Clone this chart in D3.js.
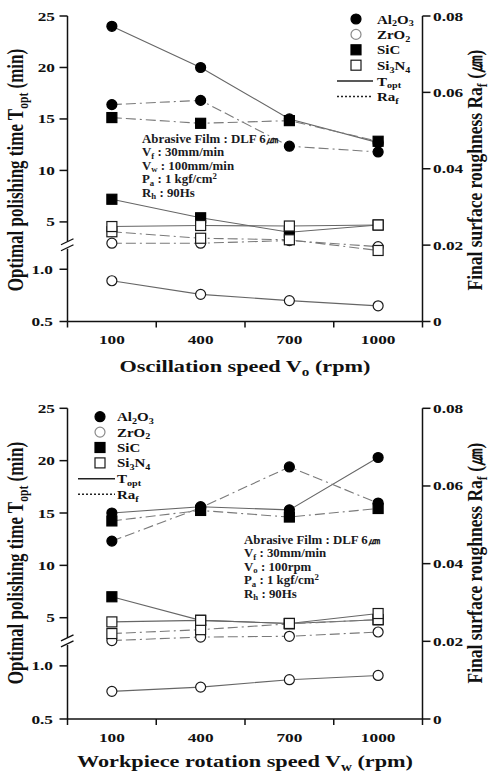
<!DOCTYPE html>
<html>
<head>
<meta charset="utf-8">
<script src="https://cdn.jsdelivr.net/npm/d3@7"></script>
<style>
  body { margin: 0; background: #fff; }
  svg { display: block; }
</style>
</head>
<body>
<div id="chart"></div>
<script>
// categories
const speeds = ["100", "400", "700", "1000"];

// Oscillation speed panel (T_opt in min, Ra_f in um)
const oscToptAl2O3 = [24.0, 20.0, 15.0, 12.7];
const oscToptZrO2 = [0.89, 0.76, 0.70, 0.65];
const oscToptSiC = [7.2, 5.4, 4.0, 4.7];
const oscToptSi3N4 = [4.55, 4.65, 4.6, 4.7];
const oscRaAl2O3 = [0.0568, 0.0579, 0.0459, 0.0444];
const oscRaZrO2 = [0.0205, 0.0205, 0.0212, 0.0196];
const oscRaSiC = [0.0534, 0.0519, 0.0526, 0.0472];
const oscRaSi3N4 = [0.0235, 0.0218, 0.0214, 0.0186];

// Workpiece rotation speed panel
const rotToptAl2O3 = [15.0, 15.6, 15.3, 20.3];
const rotToptZrO2 = [0.76, 0.80, 0.87, 0.91];
const rotToptSiC = [7.0, 4.75, 4.45, 4.8];
const rotToptSi3N4 = [4.6, 4.75, 4.45, 5.4];
const rotRaAl2O3 = [0.0458, 0.0544, 0.0649, 0.0556];
const rotRaZrO2 = [0.0202, 0.0211, 0.0213, 0.0224];
const rotRaSiC = [0.0510, 0.0537, 0.0520, 0.0542];
const rotRaSi3N4 = [0.0220, 0.0230, 0.0245, 0.0256];

// tick labels
const leftUpperTicks = [5, 10, 15, 20, 25];
const leftLowerTicks = [0.5, 1.0];
const rightTicks = [0, 0.02, 0.04, 0.06, 0.08];
const rightTickLabels = ["0", "0.02", "0.04", "0.06", "0.08"];

const FONT = "'Liberation Serif','Times New Roman',serif";
const W = 489, H = 774;
const leftX = 67.5, rightX = 422.5;

let svg = d3.select("#chart").append("svg")
    .attr("width", W)
    .attr("height", H);

// text with _{sub} and ^{sup} markup
function rich(t, str, size) {
    const re = /([_^])\{([^}]*)\}|([^_^]+)/g;
    let m, shift = 0;
    while ((m = re.exec(str))) {
        if (m[3]) {
            t.append("tspan").attr("dy", -shift).attr("font-size", size).text(m[3]);
            shift = 0;
        } else {
            let d = m[1] === "_" ? size * 0.22 : -size * 0.4;
            t.append("tspan").attr("dy", d - shift).attr("font-size", size * 0.68).text(m[2]);
            shift = d;
        }
    }
}

function addText(parent, x, y, str, size, opts) {
    opts = opts || {};
    let sx = opts.sx || 1.28;
    let g = parent.append("g")
        .attr("transform", opts.rotate
            ? "translate(" + x + "," + y + ") rotate(-90) scale(1," + sx + ")"
            : "translate(" + x + "," + y + ") scale(" + sx + ",1)");
    let t = g.append("text")
        .attr("text-anchor", opts.anchor || "start")
        .attr("y", opts.dy || 0)
        .attr("font-family", FONT)
        .attr("font-weight", "bold")
        .attr("fill", opts.fill || "#111");
    rich(t, str, size);
    return t;
}

function drawPanel(cfg) {
    let top = cfg.top, bottom = cfg.bottom, h = bottom - top;
    let g = svg.append("g");

    // scales: broken left axis, linear right axis, band x
    let yUpper = d3.scaleLinear().domain([5, 25]).range([top + 0.674 * h, top]);
    let yLower = d3.scaleLinear().domain([0.5, 1.0]).range([bottom, top + 0.829 * h]);
    let yLeft = function (v) { return v >= 2 ? yUpper(v) : yLower(v); };
    let yRight = d3.scaleLinear().domain([0, 0.08]).range([bottom, top]);
    let x = d3.scaleBand().domain(speeds).range([leftX, rightX]);
    let cx = function (d) { return x(d) + x.bandwidth() / 2; };
    let breakY = top + 0.752 * h;

    // axes
    let axis = g.append("g").attr("stroke", "#111").attr("stroke-width", 1.5).attr("fill", "none");
    axis.append("line").attr("x1", leftX).attr("x2", leftX).attr("y1", top).attr("y2", breakY - 4);
    axis.append("line").attr("x1", leftX).attr("x2", leftX).attr("y1", breakY + 3).attr("y2", bottom);
    axis.append("line").attr("x1", 61).attr("x2", 73.5).attr("y1", breakY - 1).attr("y2", breakY - 7).attr("stroke-width", 1.3);
    axis.append("line").attr("x1", 61).attr("x2", 73.5).attr("y1", breakY + 5).attr("y2", breakY - 1).attr("stroke-width", 1.3);
    axis.append("line").attr("x1", rightX).attr("x2", rightX).attr("y1", top).attr("y2", bottom);
    axis.append("line").attr("x1", leftX).attr("x2", rightX).attr("y1", bottom).attr("y2", bottom);

    leftUpperTicks.forEach(function (v) {
        axis.append("line").attr("x1", leftX - 8).attr("x2", leftX).attr("y1", yUpper(v)).attr("y2", yUpper(v));
        addText(g, 55, yUpper(v), String(v), 13.5, { anchor: "end", dy: 4.5 });
    });
    leftLowerTicks.forEach(function (v) {
        axis.append("line").attr("x1", leftX - 8).attr("x2", leftX).attr("y1", yLower(v)).attr("y2", yLower(v));
        addText(g, 53, yLower(v), d3.format(".1f")(v), 13.5, { anchor: "end", dy: 4.5 });
    });
    rightTicks.forEach(function (v, i) {
        axis.append("line").attr("x1", rightX).attr("x2", rightX + 8).attr("y1", yRight(v)).attr("y2", yRight(v));
        addText(g, 433, yRight(v), rightTickLabels[i], 13.5, { dy: 4.5 });
    });
    // x ticks at band edges
    speeds.concat([null]).forEach(function (d, i) {
        let xx = leftX + i * x.bandwidth();
        axis.append("line").attr("x1", xx).attr("x2", xx).attr("y1", bottom).attr("y2", bottom + 6);
    });
    speeds.forEach(function (d) {
        addText(g, cx(d), cfg.tickBase, d, 13.5, { anchor: "middle" });
    });

    // series lines
    let lineT = d3.line().x(function (d, i) { return cx(speeds[i]); }).y(function (d) { return yLeft(d); });
    let lineR = d3.line().x(function (d, i) { return cx(speeds[i]); }).y(function (d) { return yRight(d); });
    let lines = g.append("g").attr("fill", "none");
    cfg.series.forEach(function (s) {
        lines.append("path").attr("d", lineT(s.topt)).attr("stroke", "#666").attr("stroke-width", 1.1);
        lines.append("path").attr("d", lineR(s.ra)).attr("stroke", "#7a7a7a").attr("stroke-width", 1.1)
            .attr("stroke-dasharray", "10,4,10,4,2,4");
    });

    // markers
    let marks = g.append("g");
    cfg.series.forEach(function (s) {
        let pts = s.ra.map(function (v, i) { return [cx(speeds[i]), yRight(v)]; })
            .concat(s.topt.map(function (v, i) { return [cx(speeds[i]), yLeft(v)]; }));
        pts.forEach(function (p) { drawMarker(marks, p[0], p[1], s.shape, s.filled); });
    });

    // legend
    let lg = g.append("g");
    cfg.series.forEach(function (s, i) {
        let yy = cfg.legend.y0 + i * 15.4;
        drawMarker(lg, cfg.legend.mx, yy, s.shape, s.filled, s.name === "ZrO2" ? "#8a8a8a" : null);
        addText(lg, cfg.legend.tx, yy + 4.5, s.label, 13, { sx: 1.15 });
    });
    let yT = cfg.legend.y0 + 4 * 15.4 + 0.5, yR = cfg.legend.y0 + 5 * 15.4 + 0.5;
    lg.append("line").attr("x1", cfg.legend.lx1).attr("x2", cfg.legend.lx2).attr("y1", yT).attr("y2", yT)
        .attr("stroke", "#222").attr("stroke-width", 1.5);
    lg.append("line").attr("x1", cfg.legend.lx1).attr("x2", cfg.legend.lx2).attr("y1", yR).attr("y2", yR)
        .attr("stroke", "#222").attr("stroke-width", 1.5).attr("stroke-dasharray", "2,2");
    addText(lg, cfg.legend.tx, yT + 4.5, "T_{opt}", 13, { sx: 1.15 });
    addText(lg, cfg.legend.tx, yR + 4.5, "Ra_{f}", 13, { sx: 1.15 });

    // test conditions
    cfg.notes.forEach(function (n, i) {
        addText(g, cfg.noteX, cfg.noteY + i * 13.4, n, 11.5, { sx: 1.12, fill: "#1a1a22" });
    });

    // axis titles
    addText(g, 23, cfg.yMid, "Optimal polishing time T_{opt} (min)", 17, { rotate: true, anchor: "middle", sx: 1.3 });
    addText(g, 482, cfg.yMid, "Final surface roughness Ra_{f} (\u339B)", 17.5, { rotate: true, anchor: "middle", sx: 1.25 });
    addText(g, 245, cfg.titleBase, cfg.title, 17.5, { anchor: "middle", sx: 1.27 });
}

function drawMarker(parent, x, y, shape, filled, strokeColor) {
    let stroke = strokeColor || "#1a1a1a";
    if (shape === "circle") {
        parent.append("circle").attr("cx", x).attr("cy", y).attr("r", 5)
            .attr("fill", filled ? "#000" : "#fff").attr("stroke", filled ? "#000" : stroke).attr("stroke-width", 1.2);
    } else {
        parent.append("rect").attr("x", x - 5).attr("y", y - 5).attr("width", 10).attr("height", 10)
            .attr("fill", filled ? "#000" : "#fff").attr("stroke", filled ? "#000" : stroke).attr("stroke-width", 1.2);
    }
}

drawPanel({
    top: 16, bottom: 321.5, tickBase: 344, titleBase: 372, yMid: 170,
    title: "Oscillation speed V_{o} (rpm)",
    legend: { y0: 19, mx: 356, tx: 377, lx1: 337, lx2: 373 },
    noteX: 142, noteY: 143,
    notes: ["Abrasive Film : DLF 6\u339B", "V_{f} : 30mm/min", "V_{w} : 100mm/min", "P_{a}  : 1 kgf/cm^{2}", "R_{h}  : 90Hs"],
    series: [
        { name: "Al2O3", label: "Al_{2}O_{3}", shape: "circle", filled: true, topt: oscToptAl2O3, ra: oscRaAl2O3 },
        { name: "ZrO2", label: "ZrO_{2}", shape: "circle", filled: false, topt: oscToptZrO2, ra: oscRaZrO2 },
        { name: "SiC", label: "SiC", shape: "square", filled: true, topt: oscToptSiC, ra: oscRaSiC },
        { name: "Si3N4", label: "Si_{3}N_{4}", shape: "square", filled: false, topt: oscToptSi3N4, ra: oscRaSi3N4 }
    ]
});

drawPanel({
    top: 408.3, bottom: 719, tickBase: 742, titleBase: 767, yMid: 563,
    title: "Workpiece rotation speed V_{w} (rpm)",
    legend: { y0: 416.7, mx: 100, tx: 117, lx1: 78, lx2: 115 },
    noteX: 244, noteY: 544,
    notes: ["Abrasive Film : DLF 6\u339B", "V_{f} : 30mm/min", "V_{o} : 100rpm", "P_{a}  : 1 kgf/cm^{2}", "R_{h}  : 90Hs"],
    series: [
        { name: "Al2O3", label: "Al_{2}O_{3}", shape: "circle", filled: true, topt: rotToptAl2O3, ra: rotRaAl2O3 },
        { name: "ZrO2", label: "ZrO_{2}", shape: "circle", filled: false, topt: rotToptZrO2, ra: rotRaZrO2 },
        { name: "SiC", label: "SiC", shape: "square", filled: true, topt: rotToptSiC, ra: rotRaSiC },
        { name: "Si3N4", label: "Si_{3}N_{4}", shape: "square", filled: false, topt: rotToptSi3N4, ra: rotRaSi3N4 }
    ]
});
</script>
</body>
</html>
